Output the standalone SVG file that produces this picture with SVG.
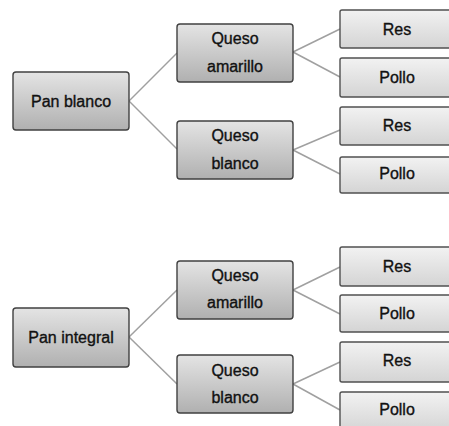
<svg xmlns="http://www.w3.org/2000/svg" width="449" height="426" viewBox="0 0 449 426">
<defs>
<linearGradient id="gMain" x1="0" y1="0" x2="0" y2="1">
<stop offset="0" stop-color="#e4e4e4"/>
<stop offset="1" stop-color="#b0b0b0"/>
</linearGradient>
<linearGradient id="gLeaf" x1="0" y1="0" x2="0" y2="1">
<stop offset="0" stop-color="#f2f2f2"/>
<stop offset="1" stop-color="#d4d4d4"/>
</linearGradient>
</defs>
<style>
.main{fill:url(#gMain);stroke:#404040;stroke-width:1.4}
.leaf{fill:url(#gLeaf);stroke:#505050;stroke-width:1.4}
.t{font-family:"Liberation Sans",Arial,sans-serif;font-size:16px;fill:#111;stroke:#111;stroke-width:0.35;text-anchor:middle}
.c{stroke:#a0a0a0;stroke-width:1.5;fill:none}
</style>
<rect width="449" height="426" fill="#ffffff"/>
<g id="connectors">
<line class="c" x1="129" y1="101" x2="177" y2="53"/>
<line class="c" x1="129" y1="101" x2="177" y2="149"/>
<line class="c" x1="293" y1="52" x2="340" y2="29"/>
<line class="c" x1="293" y1="52" x2="340" y2="77"/>
<line class="c" x1="293" y1="150" x2="340" y2="130"/>
<line class="c" x1="293" y1="150" x2="340" y2="174"/>
<line class="c" x1="129" y1="337" x2="177" y2="290"/>
<line class="c" x1="129" y1="337" x2="177" y2="384"/>
<line class="c" x1="293" y1="290" x2="340" y2="267"/>
<line class="c" x1="293" y1="290" x2="340" y2="314"/>
<line class="c" x1="293" y1="384" x2="340" y2="362"/>
<line class="c" x1="293" y1="384" x2="340" y2="410"/>
</g>
<g id="pan-blanco"><rect class="main" x="13" y="72" width="116" height="58" rx="3"/><text class="t" x="71" y="107">Pan blanco</text></g>
<g id="queso-amarillo-1"><rect class="main" x="177" y="24" width="116" height="58" rx="3"/><text class="t" x="235" y="44">Queso</text><text class="t" x="235" y="72">amarillo</text></g>
<g id="queso-blanco-1"><rect class="main" x="177" y="121" width="116" height="58" rx="3"/><text class="t" x="235" y="141">Queso</text><text class="t" x="235" y="169">blanco</text></g>
<g id="res-1"><rect class="leaf" x="340" y="10" width="116" height="38" rx="2"/><text class="t" x="397" y="35">Res</text></g>
<g id="pollo-1"><rect class="leaf" x="340" y="58" width="116" height="39" rx="2"/><text class="t" x="397" y="83">Pollo</text></g>
<g id="res-2"><rect class="leaf" x="340" y="107" width="116" height="38" rx="2"/><text class="t" x="397" y="131">Res</text></g>
<g id="pollo-2"><rect class="leaf" x="340" y="157" width="116" height="36" rx="2"/><text class="t" x="397" y="179">Pollo</text></g>
<g id="pan-integral"><rect class="main" x="13" y="308" width="116" height="59" rx="3"/><text class="t" x="71" y="343">Pan integral</text></g>
<g id="queso-amarillo-2"><rect class="main" x="177" y="261" width="116" height="58" rx="3"/><text class="t" x="235" y="281">Queso</text><text class="t" x="235" y="308">amarillo</text></g>
<g id="queso-blanco-2"><rect class="main" x="177" y="355" width="116" height="58" rx="3"/><text class="t" x="235" y="376">Queso</text><text class="t" x="235" y="403">blanco</text></g>
<g id="res-3"><rect class="leaf" x="340" y="247" width="116" height="39" rx="2"/><text class="t" x="397" y="272">Res</text></g>
<g id="pollo-3"><rect class="leaf" x="340" y="295" width="116" height="37" rx="2"/><text class="t" x="397" y="319">Pollo</text></g>
<g id="res-4"><rect class="leaf" x="340" y="342" width="116" height="40" rx="2"/><text class="t" x="397" y="366">Res</text></g>
<g id="pollo-4"><rect class="leaf" x="340" y="392" width="116" height="40" rx="2"/><text class="t" x="397" y="415">Pollo</text></g>
</svg>
